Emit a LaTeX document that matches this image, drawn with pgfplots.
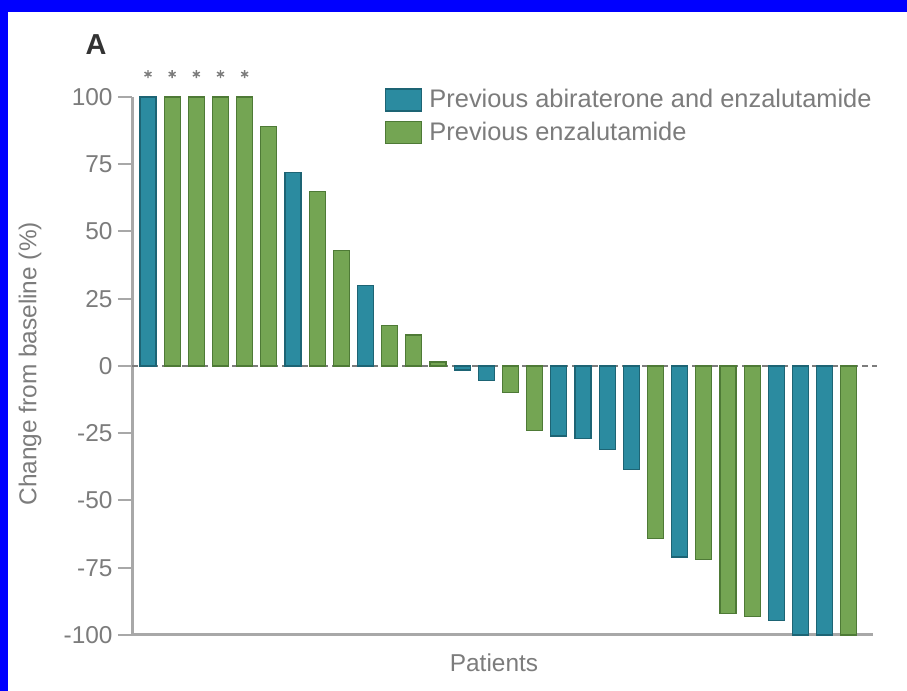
\documentclass[border=0pt]{standalone}
\usepackage{pgfplots}
\pgfplotsset{compat=1.18}
\usepackage{fontspec}
\setmainfont{Liberation Sans}
\definecolor{barblue}{HTML}{2B8BA0}
\definecolor{barblueedge}{HTML}{1D6474}
\definecolor{bargreen}{HTML}{74A553}
\definecolor{bargreenedge}{HTML}{4E7A36}
\definecolor{axisgray}{HTML}{A8A8A8}
\definecolor{textgray}{HTML}{7C7C7C}
\newcommand{\chartfont}{\fontsize{24.5}{29}\selectfont}
\newcommand{\legendfont}{\fontsize{25.5}{30}\selectfont}
\begin{document}
\begin{tikzpicture}[x=1bp,y=1bp]
\useasboundingbox (0,0) rectangle (907,691);
\fill[blue] (0,0) rectangle (907,691);
\fill[white] (8,0) rectangle (907,679);
\begin{axis}[
  at={(132bp,56bp)}, anchor=south west,
  scale only axis, width=741bp, height=538bp,
  xmin=0.338, xmax=31, ymin=-100, ymax=100,
  clip=false,
  axis x line*=bottom, axis y line*=left,
  axis line style={axisgray, line width=3bp, -},
  xtick=\empty,
  ytick={-100,-75,-50,-25,0,25,50,75,100},
  tick align=outside, major tick length=14bp,
  ytick style={axisgray, line width=2bp},
  yticklabel style={font=\chartfont, text=textgray, xshift=-2bp},
  /pgf/number format/assume math mode=true,
  every axis y label/.style={at={(axis description cs:-0.1377,0.504)}, rotate=90, anchor=center, font=\chartfont, text=textgray},
  every axis x label/.style={at={(axis description cs:0.4885,-0.052)}, anchor=center, font=\chartfont, text=textgray},
  every axis title/.style={at={(axis description cs:-0.0486,1.0967)}, anchor=center, font=\bfseries\fontsize{29}{31}\selectfont, text=black!80},
  title={A},
  ylabel={Change from baseline (\%)},
  xlabel={Patients},
  legend style={at={(axis description cs:0.3414,1.0167)}, anchor=north west, draw=none, fill=none,
    font=\legendfont, text=textgray, inner sep=0pt, outer sep=0pt, row sep=8bp, column sep=7bp,
    nodes={inner sep=0pt, text height=17bp, text depth=5bp},
    cells={anchor=base west}},
]
% zero reference line
\addplot[forget plot, textgray, line width=1.5bp, dash pattern=on 6bp off 4bp] coordinates {(0.338,0) (31.15,0)};
% previous abiraterone and enzalutamide
\addplot[forget plot, ybar, bar shift=0pt, bar width=16bp, fill=barblue, draw=barblueedge, line width=1.2bp] coordinates {
(1,100) (7,72) (10,30) (14,-1.5) (15,-5.5) (18,-26) (19,-27) (20,-31) (21,-38.5) (23,-71) (27,-94.5) (28,-100) (29,-100)};
% previous enzalutamide
\addplot[forget plot, ybar, bar shift=0pt, bar width=16bp, fill=bargreen, draw=bargreenedge, line width=1.2bp] coordinates {
(2,100) (3,100) (4,100) (5,100) (6,89) (8,65) (9,43) (11,15) (12,11.5) (13,1.5) (16,-10) (17,-24) (22,-64) (24,-72) (25,-92) (26,-93) (30,-100)};
% asterisks
\addplot[forget plot, only marks, mark=asterisk, mark size=4bp, line width=1.4bp, textgray] coordinates {
(1,108.5) (2,108.5) (3,108.5) (4,108.5) (5,108.5)};
\addlegendimage{legend image code/.code={\draw[fill=barblue,draw=barblueedge,line width=1.5bp] (0bp,-3bp) rectangle (36bp,19bp);}}
\addlegendentry{Previous abiraterone and enzalutamide}
\addlegendimage{legend image code/.code={\draw[fill=bargreen,draw=bargreenedge,line width=1.5bp] (0bp,-3bp) rectangle (36bp,19bp);}}
\addlegendentry{Previous enzalutamide}
\end{axis}
\end{tikzpicture}
\end{document}
